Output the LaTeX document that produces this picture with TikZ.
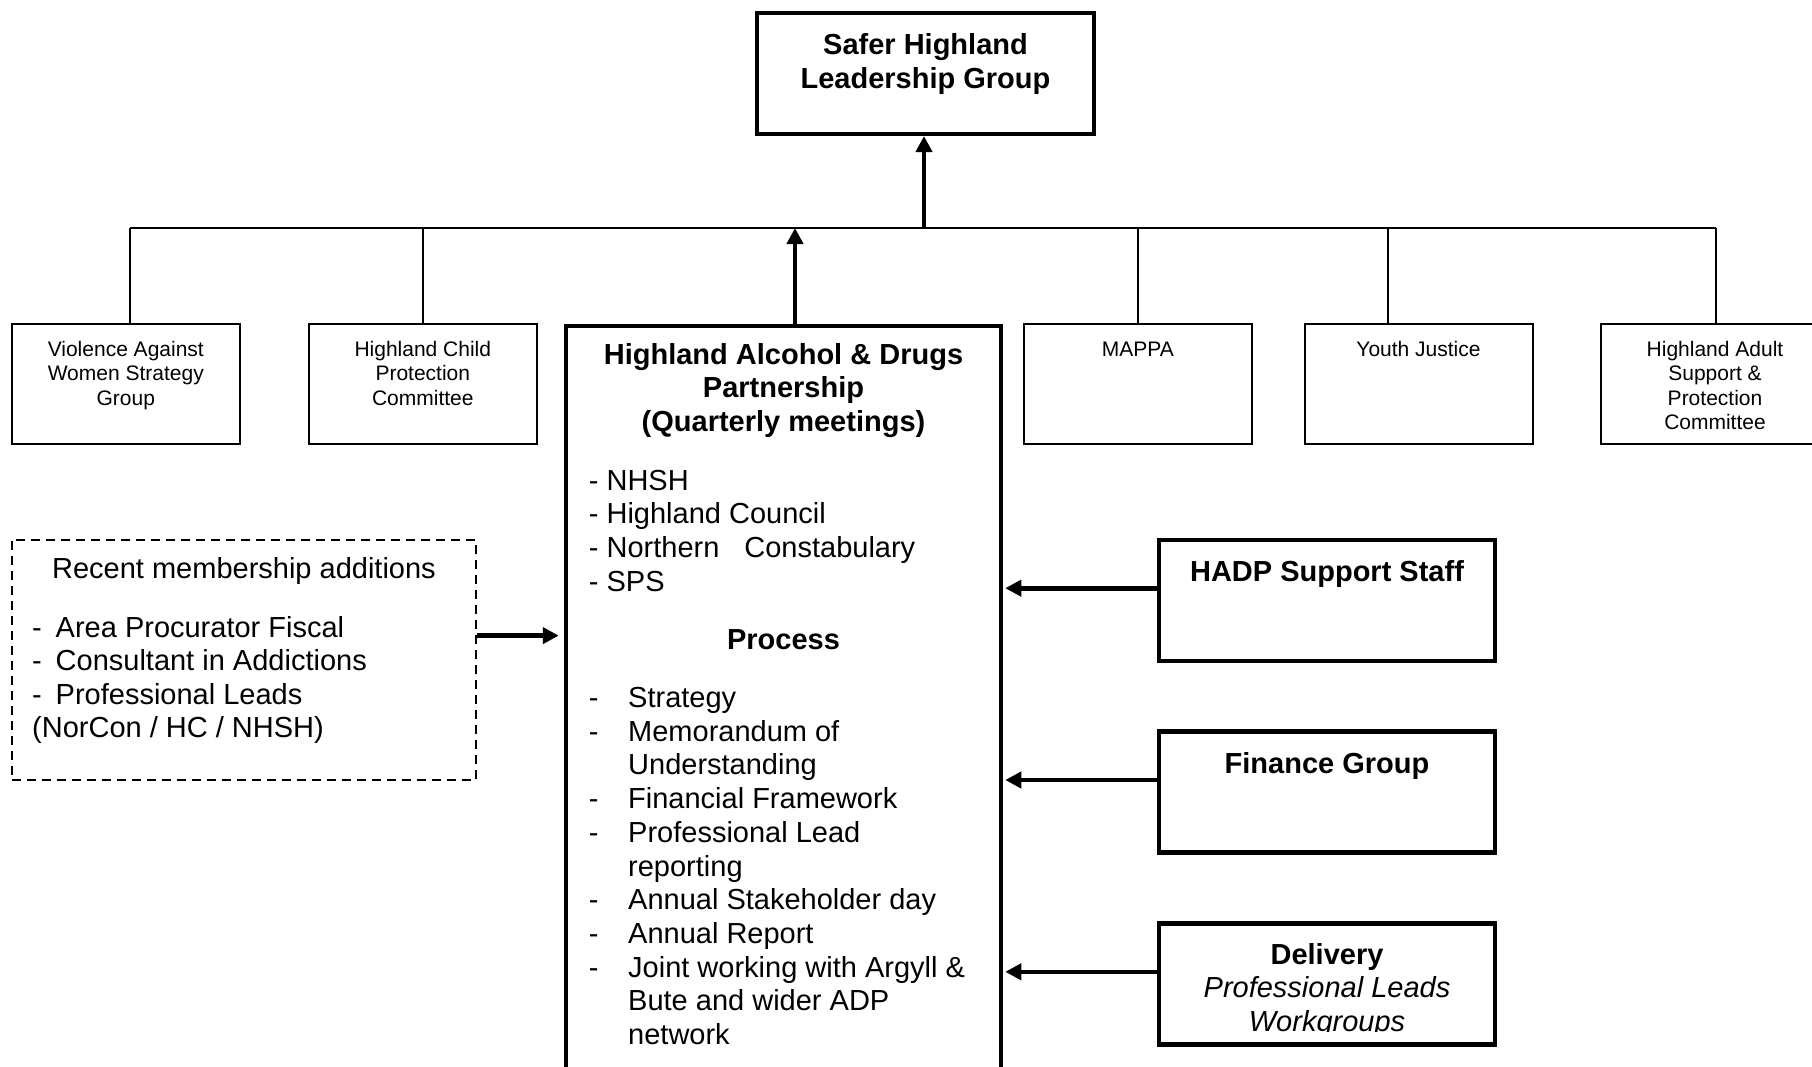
\documentclass[tikz,border=0pt]{standalone}
\usepackage{fontspec}
\setmainfont{Liberation Sans}
\usetikzlibrary{arrows.meta,calc}
\newcommand\mystrut{\rule{0pt}{0.8em}}
\begin{document}
\begin{tikzpicture}[x=1pt,y=-1pt,
  smallbox/.style={draw,line width=2pt,minimum width=228pt,minimum height=120pt,inner sep=0pt},
  heavybox/.style={draw,line width=4.5pt,inner sep=0pt},
  dashbox/.style={draw,line width=2pt,dash pattern=on 9pt off 6pt,inner sep=0pt},
  bigtxt/.style={inner sep=0pt,font=\fontsize{29}{33.6}\selectfont},
  bigbold/.style={inner sep=0pt,anchor=north,align=center,font=\fontsize{29}{33.6}\selectfont\bfseries},
  smalltxt/.style={inner sep=0pt,anchor=north,align=center,font=\fontsize{21}{24.4}\selectfont},
  thinline/.style={line width=2pt},
  heavyarrow/.style={line width=4.6pt,-{Triangle[length=16pt,width=16pt]}},
]
\useasboundingbox (0,0) rectangle (1812,1066);
\clip (0,0) rectangle (1812,1066);

% top box
\node[heavybox,line width=4pt,minimum width=337pt,minimum height=121pt] (shlg) at (925.5,73.5) {};
\node[bigbold,font=\fontsize{29}{34}\selectfont\bfseries] (shlgt) at (925.5,31.1) {\mystrut Safer Highland\\Leadership Group};

% horizontal bus
\coordinate (b1) at (130,228);
\coordinate (b2) at (423,228);
\coordinate (bj) at (924,228);
\coordinate (bh) at (795,228);
\coordinate (b4) at (1138,228);
\coordinate (b5) at (1388,228);
\coordinate (b6) at (1716,228);
\draw[thinline] (b1) -- (b6);

% small boxes
\node[smallbox] (vaw) at (125.8,383.6) {};
\node[smalltxt] (vawt) at (125.8,339.2) {\mystrut Violence Against\\Women Strategy\\Group};
\node[smallbox] (hcpc) at (422.8,383.6) {};
\node[smalltxt] (hcpct) at (422.8,339.2) {\mystrut Highland Child\\Protection\\Committee};
\node[smallbox] (mappa) at (1137.8,383.6) {};
\node[smalltxt] (mappat) at (1137.8,339.2) {\mystrut MAPPA};
\node[smallbox] (yj) at (1418.5,383.6) {};
\node[smalltxt] (yjt) at (1418.5,339.2) {\mystrut Youth Justice};
\node[smallbox] (haspc) at (1715,383.6) {};
\node[smalltxt] (haspct) at (1715,339.2) {\mystrut Highland Adult\\Support \&\\Protection\\Committee};

\draw[thinline] (b1) -- (b1 |- vaw.north);
\draw[thinline] (b2) -- (b2 |- hcpc.north);
\draw[thinline] (b4) -- (b4 |- mappa.north);
\draw[thinline] (b5) -- (b5 |- yj.north);
\draw[thinline] (b6) -- (b6 |- haspc.north);

% main HADP box
\node[heavybox,minimum width=435pt,minimum height=760pt,anchor=north] (hadp) at (783.5,323.6) {};
\node[bigbold] (hadpt) at (783.5,340.8) {\mystrut Highland Alcohol \& Drugs\\Partnership\\(Quarterly meetings)};
\node[bigtxt,anchor=north west,align=left] (members) at (588.7,466.8) {\mystrut - NHSH\\- Highland Council\\- Northern\hspace{25pt}Constabulary\\- SPS};
\node[bigbold] (proc) at (783.5,626.3) {\mystrut Process};
\node[inner sep=0pt,anchor=north west,align=left,font=\fontsize{29}{33.7}\selectfont] (items) at (588.7,684.1) {\mystrut\makebox[39.3pt][l]{-}Strategy\\
\makebox[39.3pt][l]{-}Memorandum of\\
\hspace*{39.3pt}Understanding\\
\makebox[39.3pt][l]{-}Financial Framework\\
\makebox[39.3pt][l]{-}Professional Lead\\
\hspace*{39.3pt}reporting\\
\makebox[39.3pt][l]{-}Annual Stakeholder day\\
\makebox[39.3pt][l]{-}Annual Report\\
\makebox[39.3pt][l]{-}Joint working with Argyll \&\\
\hspace*{39.3pt}Bute and wider ADP\\
\hspace*{39.3pt}network};

\draw[heavyarrow] (bh |- hadp.north) -- (bh);
\draw[heavyarrow] (bj) -- (bj |- shlg.south);

% dashed box
\node[dashbox,minimum width=464.4pt,minimum height=240pt] (add) at (243.8,660) {};
\node[bigtxt,anchor=north,align=center] (addt) at (244,554.8) {\mystrut Recent membership additions};
\node[bigtxt,anchor=north west,align=left] (addl) at (32,613.6) {\mystrut\makebox[23.5pt][l]{-}Area Procurator Fiscal\\
\makebox[23.5pt][l]{-}Consultant in Addictions\\
\makebox[23.5pt][l]{-}Professional Leads\\
(NorCon / HC / NHSH)};
\coordinate (ya) at (0,635.6);
\draw[heavyarrow] (add.east |- ya) -- ($(hadp.west |- ya)+(-5,0)$);

% right boxes
\node[heavybox,minimum width=336pt,minimum height=121pt] (staff) at (1327,600.3) {};
\node[bigbold] (stafft) at (1327,558.3) {\mystrut HADP Support Staff};
\node[heavybox,minimum width=336pt,minimum height=121pt] (fin) at (1327,792.2) {};
\node[bigbold] (fint) at (1327,749.8) {\mystrut Finance Group};
\node[heavybox,minimum width=336pt,minimum height=121pt] (deliv) at (1327,984) {};
\begin{scope}
\clip (1159,923) rectangle (1495,1031);
\node[bigtxt,anchor=north,align=center] (delivt) at (1327,940.8) {\mystrut\textbf{Delivery}\\\textit{Professional Leads}\\\textit{Workgroups}};
\end{scope}

\coordinate (y1) at (0,588.2);
\coordinate (y2) at (0,780);
\coordinate (y3) at (0,971.8);
\draw[heavyarrow] (staff.west |- y1) -- ($(hadp.east |- y1)+(2,0)$);
\draw[heavyarrow] (fin.west |- y2) -- ($(hadp.east |- y2)+(2,0)$);
\draw[heavyarrow] (deliv.west |- y3) -- ($(hadp.east |- y3)+(2,0)$);
\end{tikzpicture}
\end{document}
